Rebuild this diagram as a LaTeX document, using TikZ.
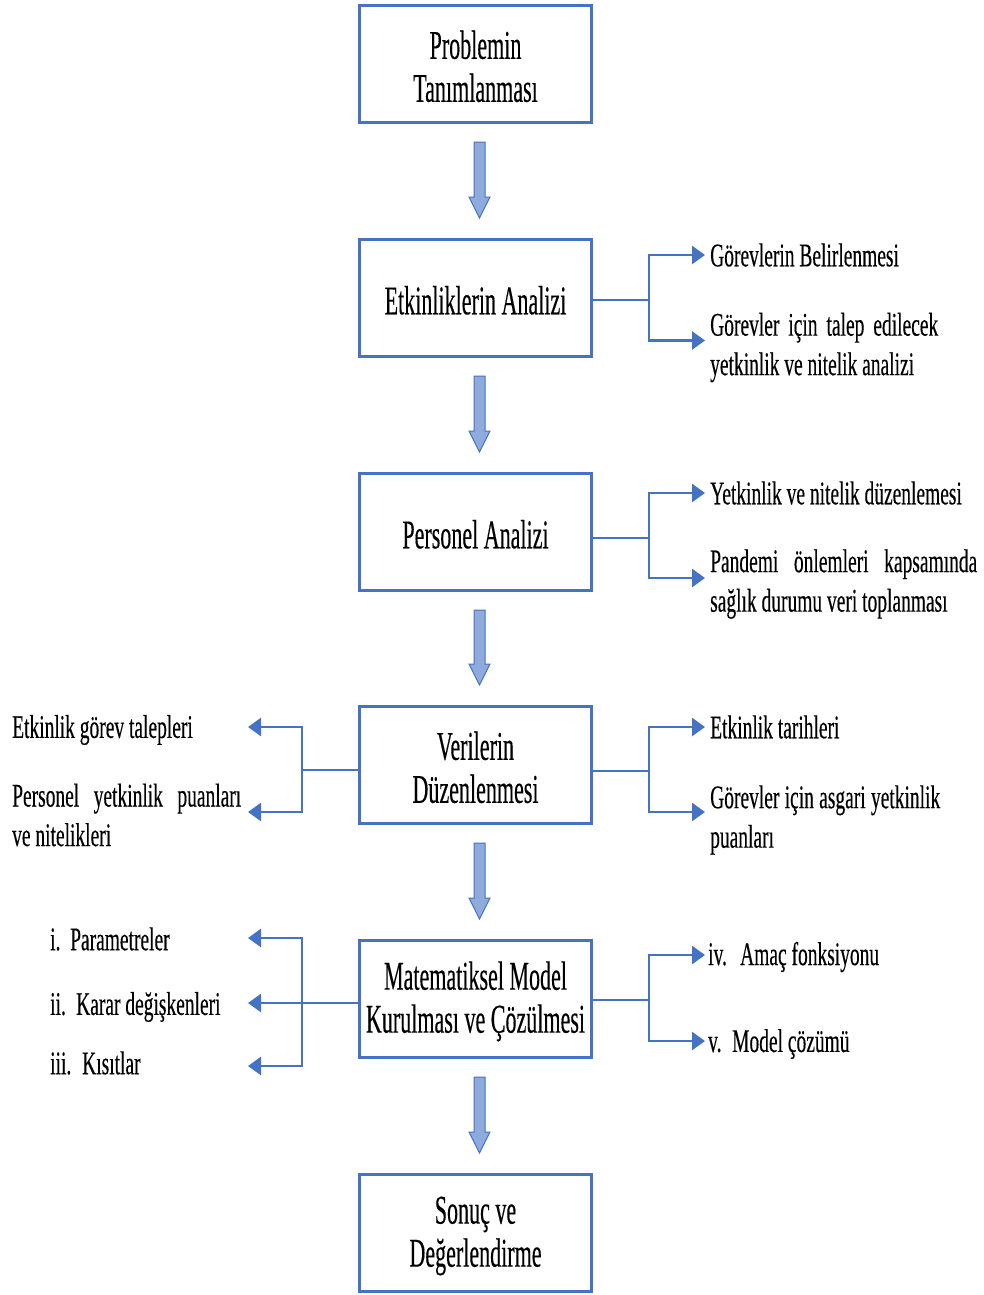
\documentclass[tikz,border=0pt]{standalone}
\usepackage{fontspec}
\usetikzlibrary{arrows.meta,calc}
\newfontfamily\boxfont[FakeStretch=0.54,FakeBold=0.3]{Liberation Serif}
\newfontfamily\sidefont[FakeStretch=0.59,FakeBold=0.3]{Liberation Serif}
\definecolor{lineblue}{HTML}{4472C4}
\definecolor{arrowfill}{HTML}{8FAADC}

% thick block arrow from the bottom of one step box to the top of the next
\newcommand\flowarrow[2]{%
  \path (#1.south) ++(4,18) coordinate (ftop);
  \path (#2.north) ++(4,-20) coordinate (ftip);
  \filldraw[blockarrow] ($(ftop)+(-5.5,0)$) -- ($(ftop)+(5.5,0)$)
    -- ($(ftip)+(5.5,-21)$) -- ($(ftip)+(10.5,-21)$) -- (ftip)
    -- ($(ftip)+(-10.5,-21)$) -- ($(ftip)+(-5.5,-21)$) -- cycle;
}
% strut that lowers the text block inside a step box
\newcommand\boxstrut{\rule{0pt}{33pt}}

\begin{document}
\begin{tikzpicture}[x=1pt,y=-1pt,
  stepbox/.style={draw=lineblue, line width=3pt, minimum width=232pt,
    minimum height=117pt, inner sep=0pt, align=center,
    font=\boxfont\fontsize{40.8}{43}\selectfont},
  side/.style={inner sep=0pt, anchor=west, align=left,
    font=\sidefont\fontsize{33}{39.5}\selectfont},
  conn/.style={draw=lineblue, line width=2.7pt},
  tip/.style={-{Triangle[length=13pt,width=18pt]}},
  blockarrow/.style={fill=arrowfill, draw=lineblue, line width=1pt, line join=miter}
]
\useasboundingbox (0,0) rectangle (984,1295);

% main process steps
\node[stepbox] (b1) at (475.5,64)   {\boxstrut Problemin\\Tanımlanması};
\node[stepbox] (b2) at (475.5,298)  {\boxstrut Etkinliklerin Analizi};
\node[stepbox] (b3) at (475.5,532)  {\boxstrut Personel Analizi};
\node[stepbox] (b4) at (475.5,765)  {\boxstrut Verilerin\\Düzenlenmesi};
\node[stepbox] (b5) at (475.5,999)  {\boxstrut Matematiksel Model\\Kurulması ve Çözülmesi};
\node[stepbox] (b6) at (475.5,1233) {\boxstrut Sonuç ve\\Değerlendirme};

\flowarrow{b1}{b2}
\flowarrow{b2}{b3}
\flowarrow{b3}{b4}
\flowarrow{b4}{b5}
\flowarrow{b5}{b6}

% right-hand details
\node[side] (t21) at (710,255) {Görevlerin Belirlenmesi};
\node[side] (t22) at (710,347.5) {\makebox[228pt][s]{Görevler için talep edilecek}\\yetkinlik ve nitelik analizi};
\node[side] (t31) at (710,493) {Yetkinlik ve nitelik düzenlemesi};
\node[side] (t32) at (710,584) {\makebox[267pt][s]{Pandemi önlemleri kapsamında}\\sağlık durumu veri toplanması};
\node[side] (t41) at (710,727) {Etkinlik tarihleri};
\node[side] (t42) at (710,820) {\makebox[230pt][s]{Görevler için asgari yetkinlik}\\puanları};
\node[side] (t51) at (708,957) {\makebox[32pt][l]{iv.}Amaç fonksiyonu};
\node[side] (t52) at (708,1044) {\makebox[24pt][l]{v.}Model çözümü};

% left-hand details
\node[side] (l41) at (12,730) {Etkinlik görev talepleri};
\node[side] (l42) at (12,815) {\makebox[229pt][s]{Personel yetkinlik puanları}\\ve nitelikleri};
\node[side] (l51) at (50,939) {\makebox[20pt][l]{i.}Parametreler};
\node[side] (l52) at (50,1007) {\makebox[26pt][l]{ii.}Karar değişkenleri};
\node[side] (l53) at (50,1063) {\makebox[32pt][l]{iii.}Kısıtlar};

% right branches
\draw[conn] ([yshift=-2pt]b2.east) -- ++(56,0) coordinate (j2);
\draw[conn,tip] (j2) |- ([xshift=-5pt]t21.west);
\draw[conn,tip] (j2) |- ([xshift=-5pt,yshift=7pt]t22.west);

\draw[conn] ([yshift=-6pt]b3.east) -- ++(56,0) coordinate (j3);
\draw[conn,tip] (j3) |- ([xshift=-5pt]t31.west);
\draw[conn,tip] (j3) |- ([xshift=-5pt,yshift=6pt]t32.west);

\draw[conn] ([yshift=-6pt]b4.east) -- ++(56,0) coordinate (j4);
\draw[conn,tip] (j4) |- ([xshift=-5pt]t41.west);
\draw[conn,tip] (j4) |- ([xshift=-5pt,yshift=8pt]t42.west);

\draw[conn] ([yshift=-1pt]b5.east) -- ++(56,0) coordinate (j5);
\draw[conn,tip] (j5) |- ([xshift=-3pt,yshift=2pt]t51.west);
\draw[conn,tip] (j5) |- ([xshift=-3pt,yshift=3pt]t52.west);

% left branches
\coordinate (a41) at (248,727);
\coordinate (a42) at (248,812);
\draw[conn] ([yshift=-5pt]b4.west) -- ++(-56,0) coordinate (k4);
\draw[conn,tip] (k4) |- (a41);
\draw[conn,tip] (k4) |- (a42);

\coordinate (a51) at (248,938);
\coordinate (a52) at (248,1003);
\coordinate (a53) at (248,1066);
\draw[conn] ([yshift=-4pt]b5.west) -- ++(-56,0) coordinate (k5);
\draw[conn,tip] (k5) -- (a52);
\draw[conn,tip] (k5) |- (a51);
\draw[conn,tip] (k5) |- (a53);
\end{tikzpicture}
\end{document}
